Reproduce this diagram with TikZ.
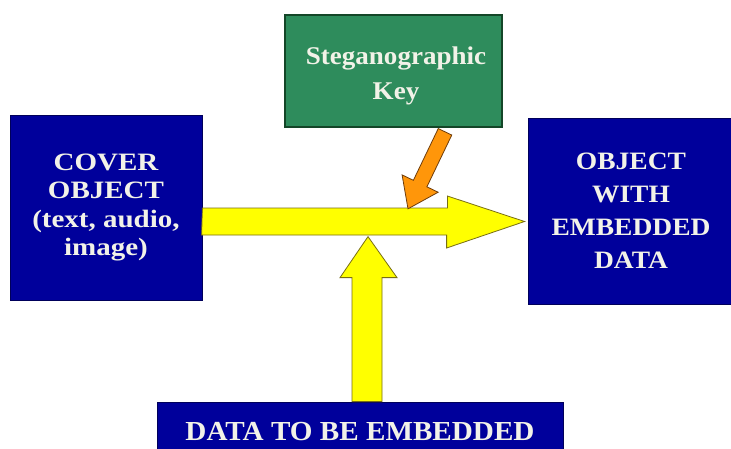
\documentclass[tikz,border=0pt]{standalone}
\usepackage{fontspec}
\setmainfont{Liberation Serif}[FakeStretch=1.06]
\newfontfamily\widerserif{Liberation Serif}[FakeStretch=1.10]
\newfontfamily\widestserif{Liberation Serif}[FakeStretch=1.16]
\usetikzlibrary{calc}
\definecolor{boxblue}{RGB}{0,0,155}
\definecolor{boxblueedge}{RGB}{0,0,90}
\definecolor{keygreen}{RGB}{46,140,92}
\definecolor{keyedge}{RGB}{20,70,40}
\definecolor{labelwhite}{RGB}{242,242,232}
\definecolor{fatyellow}{RGB}{255,255,0}
\definecolor{yellowedge}{RGB}{120,110,20}
\definecolor{keyorange}{RGB}{255,150,10}
\definecolor{orangeedge}{RGB}{110,60,10}
\tikzset{
  bluebox/.style={rectangle, fill=boxblue, draw=boxblueedge, line width=0.8pt,
    text=labelwhite, align=center, inner sep=0pt},
  keybox/.style={rectangle, fill=keygreen, draw=keyedge, line width=1.6pt,
    inner sep=0pt},
  keylabel/.style={text=labelwhite, align=center, inner sep=0pt,
    font={\bfseries\fontsize{25.5}{35}\selectfont}},
  fatarrow/.style={fill=fatyellow, draw=yellowedge, line width=0.8pt, line join=miter},
  keyarrow/.style={fill=keyorange, draw=orangeedge, line width=0.8pt, line join=miter}
}
\begin{document}
\begin{tikzpicture}[x=1pt,y=-1pt]
\useasboundingbox (0,0) rectangle (731,448);
\clip (0,0) rectangle (731,448);
\fill[white] (0,0) rectangle (731,448);

% boxes
\node[keybox, minimum width=217pt, minimum height=112pt] (key) at (393.5,71) {};
\node[keylabel] (keytext) at ($(key.center)+(2.5,5)$) {Steganographic\\ Key};
\node[bluebox, minimum width=192pt, minimum height=185pt,
  font={\widestserif\bfseries\fontsize{25}{28.5}\selectfont}] (cover) at (106,207.5)
  {COVER\\ OBJECT\\ (text, audio,\\ image)};
\node[bluebox, minimum width=206pt, minimum height=186pt,
  font={\widerserif\bfseries\fontsize{25}{33}\selectfont}] (result) at (631,211)
  {OBJECT\\ WITH\\ EMBEDDED\\ DATA};
\node[bluebox, minimum width=406pt, minimum height=60pt,
  font={\bfseries\fontsize{27.5}{32}\selectfont}] (data) at (360,432)
  {DATA TO BE EMBEDDED};

% horizontal arrow: cover object -> object with embedded data
\coordinate (h0) at ($(cover.east)+(0,14)$);
\coordinate (htip) at ($(result.west)+(-3,10.5)$);
\draw[fatarrow] ($(h0)+(0,-13.5)$) -- ++(245,0) -- ++(0,-12) -- (htip)
  -- ++(-78,26.5) -- ++(0,-13) -- ++(-245,0) -- cycle;

% vertical arrow: data to be embedded -> main arrow
\coordinate (v0) at ($(data.north)+(7,0)$);
\coordinate (vtip) at ($(v0)+(1,-165)$);
\draw[fatarrow] ($(v0)+(-15,0)$) -- ++(0,-124) -- ++(-12,0) -- (vtip)
  -- ++(29,41) -- ++(-15,0) -- ++(0,124) -- cycle;

% key arrow: steganographic key -> main arrow
\coordinate (os) at ($(key.south)+(51.5,4)$);
\coordinate (ot) at ($(key.south)+(14.5,81)$);
\coordinate (ob) at ($(ot)!28pt!(os)$);
\draw[keyarrow] ($(os)!7.5pt!90:(ot)$) -- ($(ob)!7.5pt!90:(ot)$)
  -- ($(ob)!20pt!90:(ot)$) -- (ot) -- ($(ob)!20pt!-90:(ot)$)
  -- ($(ob)!7.5pt!-90:(ot)$) -- ($(os)!7.5pt!-90:(ot)$) -- cycle;
\end{tikzpicture}
\end{document}
